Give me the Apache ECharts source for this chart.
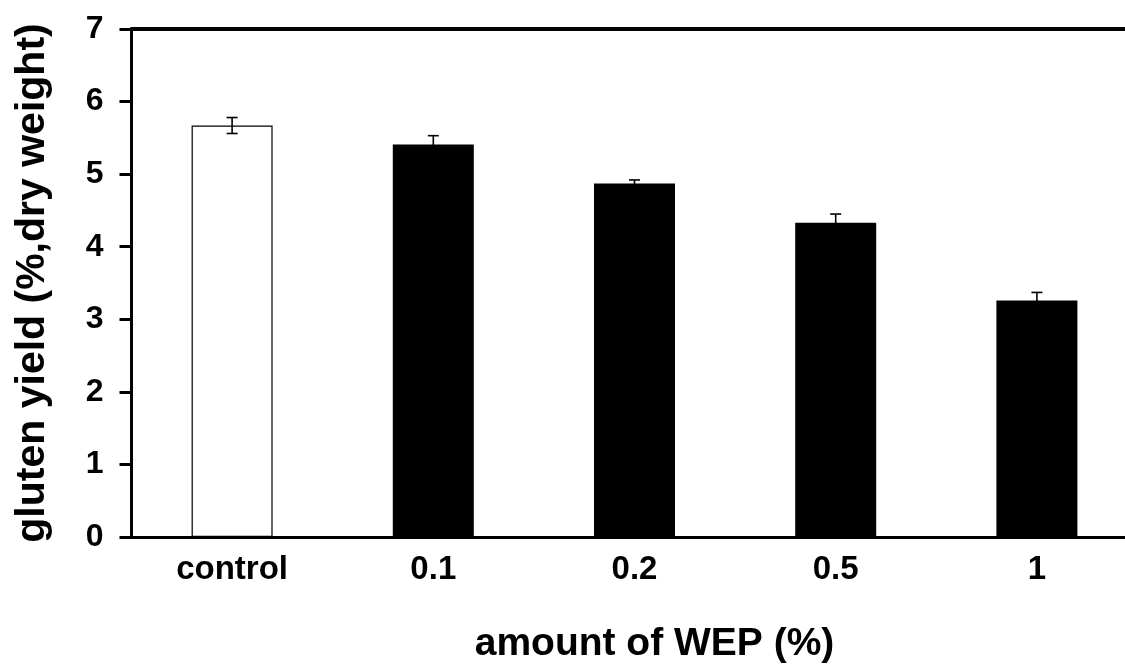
<!DOCTYPE html>
<html>
<head>
<meta charset="utf-8">
<script src="https://cdn.jsdelivr.net/npm/echarts@6/dist/echarts.min.js"></script>
<style>
  html, body { margin: 0; padding: 0; background: #fff; overflow: hidden; }
  /* the drawing surface is a little wider than the window, so the plot band runs off the right edge */
  #chart { width: 1140px; height: 669px; }
</style>
</head>
<body>
<div id="chart"></div>
<script>
// Gluten yield by WEP addition level
const categories = ['control', '0.1', '0.2', '0.5', '1'];
const yieldValues = [5.67, 5.41, 4.87, 4.33, 3.26];
const yieldErrors = [0.11, 0.12, 0.05, 0.12, 0.11];
const yTicks = [0, 1, 2, 3, 4, 5, 6, 7];

const FONT = '"Liberation Sans", Arial, Helvetica, sans-serif';

const barData = yieldValues.map((v, i) => ({
  value: v,
  itemStyle: i === 0
    ? { color: '#ffffff', borderColor: '#000', borderWidth: 1.2 }
    : { color: '#000000', borderColor: '#000', borderWidth: 0 }
}));

const errData = yieldValues.map((v, i) => [i, v - yieldErrors[i], v + yieldErrors[i]]);

const chart = echarts.init(document.getElementById('chart'), null, { renderer: 'canvas' });

chart.setOption({
  animation: false,
  backgroundColor: '#fff',
  grid: { left: 131.5, right: 2.5, top: 29, bottom: 129.5, containLabel: false },
  xAxis: [{
    type: 'category',
    data: categories,
    position: 'bottom',
    boundaryGap: true,
    axisLine: { show: true, onZero: false, lineStyle: { color: '#000', width: 3 } },
    axisTick: { show: false },
    axisLabel: {
      color: '#000', fontFamily: FONT, fontWeight: 'bold', fontSize: 33, margin: 16
    },
    name: 'amount of WEP (%)',
    nameLocation: 'middle',
    nameGap: 88,
    nameTextStyle: {
      color: '#000', fontFamily: FONT, fontWeight: 'bold', fontSize: 39,
      padding: [0, 0, 0, 40]
    }
  }, {
    type: 'category',
    data: categories,
    position: 'top',
    axisLine: { show: true, onZero: false, lineStyle: { color: '#000', width: 4 } },
    axisTick: { show: false },
    axisLabel: { show: false }
  }],
  yAxis: {
    type: 'value',
    min: yTicks[0],
    max: yTicks[yTicks.length - 1],
    interval: 1,
    axisLine: { show: true, onZero: false, lineStyle: { color: '#000', width: 3 } },
    axisTick: { show: true, inside: false, length: 12, lineStyle: { color: '#000', width: 3 } },
    splitLine: { show: false },
    axisLabel: {
      color: '#000', fontFamily: FONT, fontWeight: 'bold', fontSize: 32, margin: 28,
      formatter: v => (yTicks.includes(v) ? String(v) : '')
    },
    name: 'gluten yield (%,dry weight)',
    nameLocation: 'middle',
    nameGap: 78,
    nameTextStyle: {
      color: '#000', fontFamily: FONT, fontWeight: 'bold', fontSize: 41
    }
  },
  series: [{
    type: 'bar',
    data: barData,
    barWidth: 81,
    xAxisIndex: 0,
    z: 2
  }, {
    type: 'custom',
    xAxisIndex: 0,
    z: 5,
    data: errData,
    renderItem: function (params, api) {
      const x = api.coord([api.value(0), api.value(1)])[0];
      const low = api.coord([api.value(0), api.value(1)])[1];
      const high = api.coord([api.value(0), api.value(2)])[1];
      const capHalf = 5.5;
      const style = { stroke: '#000', lineWidth: 1.6 };
      return {
        type: 'group',
        children: [
          { type: 'line', shape: { x1: x, y1: low, x2: x, y2: high }, style },
          { type: 'line', shape: { x1: x - capHalf, y1: high, x2: x + capHalf, y2: high }, style },
          { type: 'line', shape: { x1: x - capHalf, y1: low, x2: x + capHalf, y2: low }, style }
        ]
      };
    }
  }]
});
</script>
</body>
</html>
